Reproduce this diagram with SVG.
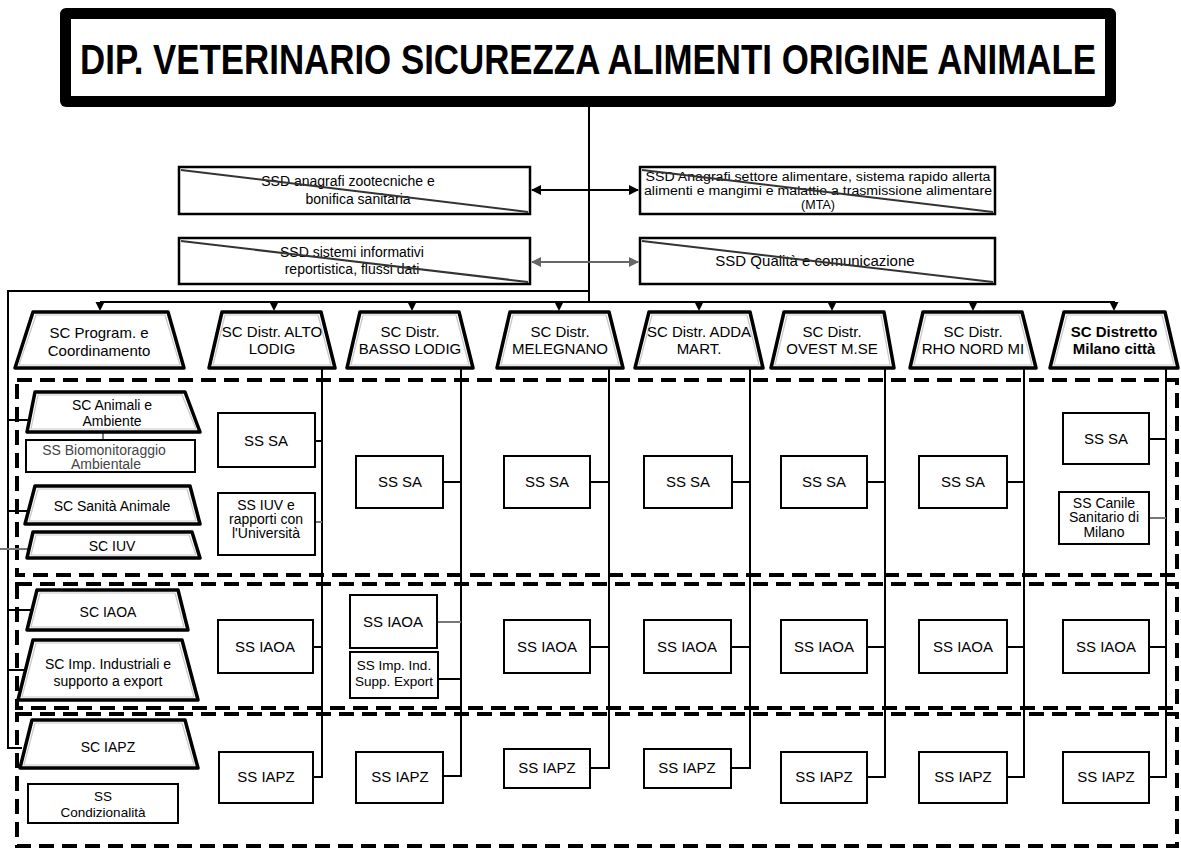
<svg xmlns="http://www.w3.org/2000/svg" xmlns:xlink="http://www.w3.org/1999/xlink" width="1181" height="848" viewBox="0 0 1181 848">
<style>
.t{font-family:"Liberation Sans",Arial,sans-serif;fill:#000;text-anchor:middle;font-size:15px}
.s14{font-size:14px}
.s13{font-size:13.5px}
.s12{font-size:12.5px}
.b{font-weight:bold}
.box{fill:#fff;stroke:#000;stroke-width:2}
.ssd{fill:#fff;stroke:#000;stroke-width:2.5}
.diag{stroke:#333;stroke-width:2}
.tro{fill:#fff;stroke:#000;stroke-width:3.5;stroke-linejoin:round}
.tri{fill:none;stroke:#c8c8c8;stroke-width:1.2;stroke-linejoin:round}
.ln{stroke:#000;stroke-width:2;fill:none}
.gl{stroke:#777;stroke-width:2;fill:none}
.dash{stroke:#000;stroke-width:4;stroke-dasharray:15 8;fill:none}
</style>
<defs>
<marker id="ah" viewBox="0 0 10 10" refX="9" refY="5" markerWidth="5" markerHeight="5" orient="auto-start-reverse"><path d="M0,0 L10,5 L0,10 Z" fill="#000"/></marker>
<marker id="ahg" viewBox="0 0 10 10" refX="9" refY="5" markerWidth="5" markerHeight="5" orient="auto-start-reverse"><path d="M0,0 L10,5 L0,10 Z" fill="#666"/></marker>
<path id="dn" d="M-4.5,0 L4.5,0 L0,9 Z" fill="#000"/>
</defs>
<rect width="1181" height="848" fill="#fff"/>

<g id="dashed-areas">
<rect class="dash" x="17" y="380" width="1160" height="195"/>
<rect class="dash" x="17" y="584" width="1160" height="124"/>
<rect class="dash" x="17" y="714" width="1160" height="132"/>
</g>

<g id="connectors">
<line class="ln" x1="589" y1="106" x2="589" y2="302"/>
<polyline class="ln" points="589,291 8,291 8,748 22,748"/>
<line class="ln" x1="8" y1="420" x2="30" y2="420"/>
<line class="ln" x1="8" y1="511" x2="28" y2="511"/>
<line class="gl" x1="0" y1="549" x2="30" y2="549"/>
<line class="ln" x1="8" y1="610" x2="31" y2="610"/>
<line class="ln" x1="8" y1="670" x2="24" y2="670"/>
<line class="gl" x1="103" y1="432" x2="103" y2="440"/>
<line class="ln" x1="100" y1="302" x2="1115" y2="302"/>
<use xlink:href="#dn" x="100" y="302"/>
<use xlink:href="#dn" x="274" y="302"/>
<use xlink:href="#dn" x="412" y="302"/>
<use xlink:href="#dn" x="559" y="302"/>
<use xlink:href="#dn" x="699" y="302"/>
<use xlink:href="#dn" x="832" y="302"/>
<use xlink:href="#dn" x="973" y="302"/>
<use xlink:href="#dn" x="1114" y="302"/>
<line class="ln" x1="532" y1="190" x2="638" y2="190" marker-start="url(#ah)" marker-end="url(#ah)"/>
<line class="gl" x1="532" y1="262" x2="638" y2="262" style="stroke:#666" marker-start="url(#ahg)" marker-end="url(#ahg)"/>
<polyline class="ln" points="322,368 322,777 313,777"/>
<line class="ln" x1="315" y1="441" x2="322" y2="441"/>
<line class="gl" x1="315" y1="522" x2="322" y2="522"/>
<line class="ln" x1="313" y1="647" x2="322" y2="647"/>
<polyline class="ln" points="461,368 461,776 443,776"/>
<line class="ln" x1="443" y1="482" x2="461" y2="482"/>
<line class="gl" x1="437" y1="622" x2="461" y2="622"/>
<line class="ln" x1="438" y1="679" x2="461" y2="679"/>
<polyline class="ln" points="609,368 609,768 590,768"/>
<line class="ln" x1="590" y1="482" x2="609" y2="482"/>
<line class="ln" x1="590" y1="647" x2="609" y2="647"/>
<polyline class="ln" points="750,368 750,768 731,768"/>
<line class="ln" x1="732" y1="482" x2="750" y2="482"/>
<line class="ln" x1="731" y1="647" x2="750" y2="647"/>
<polyline class="ln" points="885,368 885,777 867,777"/>
<line class="ln" x1="867" y1="482" x2="885" y2="482"/>
<line class="ln" x1="867" y1="647" x2="885" y2="647"/>
<polyline class="ln" points="1024,368 1024,777 1007,777"/>
<line class="ln" x1="1007" y1="482" x2="1024" y2="482"/>
<line class="ln" x1="1007" y1="647" x2="1024" y2="647"/>
<polyline class="ln" points="1166,368 1166,777 1149,777"/>
<line class="ln" x1="1149" y1="439" x2="1166" y2="439"/>
<line class="gl" x1="1149" y1="518" x2="1166" y2="518"/>
<line class="ln" x1="1149" y1="647" x2="1166" y2="647"/>
</g>

<g id="title">
<rect x="60" y="8" width="1056" height="99" rx="6" fill="#000"/>
<rect x="71" y="19" width="1034" height="77" fill="#fff"/>
<text class="t b" transform="translate(588 74) scale(0.72 1)" x="0" y="0" style="font-size:43px" textLength="1411" lengthAdjust="spacingAndGlyphs">DIP. VETERINARIO SICUREZZA ALIMENTI ORIGINE ANIMALE</text>
</g>

<g id="ssd-anagrafi-zootecniche">
<rect class="ssd" x="179" y="167" width="351" height="47"/>
<text class="t s14" x="348" y="186">SSD anagrafi zootecniche e</text>
<text class="t s14" x="358" y="204">bonifica sanitaria</text>
<line class="diag" x1="181" y1="170" x2="528" y2="212"/>
</g>
<g id="ssd-anagrafi-alimentare">
<rect class="ssd" x="640" y="167" width="355" height="47"/>
<text class="t s12" x="818" y="181" textLength="345" lengthAdjust="spacingAndGlyphs">SSD Anagrafi settore alimentare, sistema rapido allerta</text>
<text class="t s12" x="818" y="195" textLength="348" lengthAdjust="spacingAndGlyphs">alimenti e mangimi e malattie a trasmissione alimentare</text>
<text class="t s12" x="818" y="209">(MTA)</text>
<line class="diag" x1="642" y1="170" x2="993" y2="212"/>
</g>
<g id="ssd-sistemi-informativi">
<rect class="ssd" x="179" y="238" width="351" height="46"/>
<text class="t s14" x="352" y="257">SSD sistemi informativi</text>
<text class="t s14" x="352" y="274">reportistica, flussi dati</text>
<line class="diag" x1="181" y1="241" x2="528" y2="282"/>
</g>
<g id="ssd-qualita">
<rect class="ssd" x="640" y="238" width="355" height="46"/>
<text class="t" x="815" y="266">SSD Qualità e comunicazione</text>
<line class="diag" x1="642" y1="241" x2="993" y2="282"/>
</g>

<g id="sc-program">
<polygon class="tro" points="33,312 168,312 184,368 15,368"/>
<polygon class="tri" points="36,315 165,315 180,365 19,365"/>
<text class="t" x="99" y="338">SC Program. e</text>
<text class="t" x="99" y="356">Coordinamento</text>
</g>
<g id="sc-alto-lodig">
<polygon class="tro" points="222,312 321,312 335,368 209,368"/>
<polygon class="tri" points="225,315 318,315 331,365 213,365"/>
<text class="t" x="272" y="337">SC Distr. ALTO</text>
<text class="t" x="272" y="354">LODIG</text>
</g>
<g id="sc-basso-lodig">
<polygon class="tro" points="360,312 459,312 473,368 347,368"/>
<polygon class="tri" points="363,315 456,315 469,365 351,365"/>
<text class="t" x="410" y="337">SC Distr.</text>
<text class="t" x="410" y="354">BASSO LODIG</text>
</g>
<g id="sc-melegnano">
<polygon class="tro" points="510,312 609,312 623,368 497,368"/>
<polygon class="tri" points="513,315 606,315 619,365 501,365"/>
<text class="t" x="560" y="337">SC Distr.</text>
<text class="t" x="560" y="354">MELEGNANO</text>
</g>
<g id="sc-adda-mart">
<polygon class="tro" points="649,312 750,312 763,368 635,368"/>
<polygon class="tri" points="652,315 747,315 759,365 639,365"/>
<text class="t" x="699" y="337">SC Distr. ADDA</text>
<text class="t" x="699" y="354">MART.</text>
</g>
<g id="sc-ovest-mse">
<polygon class="tro" points="784,312 884,312 894,368 771,368"/>
<polygon class="tri" points="787,315 881,315 890,365 775,365"/>
<text class="t" x="832" y="337">SC Distr.</text>
<text class="t" x="832" y="354">OVEST M.SE</text>
</g>
<g id="sc-rho-nord-mi">
<polygon class="tro" points="923,312 1022,312 1036,368 910,368"/>
<polygon class="tri" points="926,315 1019,315 1032,365 914,365"/>
<text class="t" x="973" y="337">SC Distr.</text>
<text class="t" x="973" y="354">RHO NORD MI</text>
</g>
<g id="sc-milano-citta">
<polygon class="tro" points="1064,312 1165,312 1178,368 1050,368"/>
<polygon class="tri" points="1067,315 1162,315 1174,365 1054,365"/>
<text class="t b" x="1114" y="337">SC Distretto</text>
<text class="t b" x="1114" y="354">Milano città</text>
</g>

<g id="sc-animali-ambiente">
<polygon class="tro" points="35,392 185,392 200,432 27,432"/>
<polygon class="tri" points="38,395 182,395 196,429 31,429"/>
<text class="t s14" x="112" y="410">SC Animali e</text>
<text class="t s14" x="112" y="426">Ambiente</text>
</g>
<g id="ss-biomonitoraggio">
<rect class="box" x="26" y="440" width="169" height="32"/>
<text class="t s14" x="104" y="455" style="fill:#444">SS Biomonitoraggio</text>
<text class="t s14" x="106" y="469" style="fill:#444">Ambientale</text>
</g>
<g id="sc-sanita-animale">
<polygon class="tro" points="35,486 190,486 200,524 25,524"/>
<polygon class="tri" points="38,489 187,489 196,521 29,521"/>
<text class="t s14" x="112" y="511">SC Sanità Animale</text>
</g>
<g id="sc-iuv">
<polygon class="tro" points="33,532 192,532 200,558 27,558"/>
<polygon class="tri" points="36,535 189,535 196,555 31,555"/>
<text class="t s14" x="112" y="551">SC IUV</text>
</g>
<g id="sc-iaoa">
<polygon class="tro" points="37,590 178,590 188,630 27,630"/>
<polygon class="tri" points="40,593 175,593 184,627 31,627"/>
<text class="t s14" x="108" y="617">SC IAOA</text>
</g>
<g id="sc-imp-industriali">
<polygon class="tro" points="33,640 182,640 198,700 18,700"/>
<polygon class="tri" points="36,643 179,643 194,697 22,697"/>
<text class="t s14" x="108" y="669">SC Imp. Industriali e</text>
<text class="t s14" x="108" y="686">supporto a export</text>
</g>
<g id="sc-iapz">
<polygon class="tro" points="32,720 185,720 198,768 20,768"/>
<polygon class="tri" points="35,723 182,723 194,765 24,765"/>
<text class="t s14" x="108" y="752">SC IAPZ</text>
</g>
<g id="ss-condizionalita">
<rect class="box" x="28" y="784" width="150" height="39"/>
<text class="t s13" x="103" y="801">SS</text>
<text class="t s13" x="103" y="817">Condizionalità</text>
</g>

<g id="alto-ss-sa"><rect class="box" x="218" y="413" width="97" height="54"/><text class="t" x="266" y="446">SS SA</text></g>
<g id="alto-ss-iuv"><rect class="box" x="218" y="493" width="97" height="62"/><text class="t s14" x="266" y="510">SS IUV e</text><text class="t s14" x="266" y="524">rapporti con</text><text class="t s14" x="266" y="538">l'Università</text></g>
<g id="basso-ss-sa"><rect class="box" x="356" y="456" width="87" height="52"/><text class="t" x="400" y="487">SS SA</text></g>
<g id="melegnano-ss-sa"><rect class="box" x="504" y="456" width="86" height="52"/><text class="t" x="547" y="487">SS SA</text></g>
<g id="adda-ss-sa"><rect class="box" x="644" y="456" width="88" height="52"/><text class="t" x="688" y="487">SS SA</text></g>
<g id="ovest-ss-sa"><rect class="box" x="781" y="456" width="86" height="52"/><text class="t" x="824" y="487">SS SA</text></g>
<g id="rho-ss-sa"><rect class="box" x="919" y="456" width="88" height="52"/><text class="t" x="963" y="487">SS SA</text></g>
<g id="milano-ss-sa"><rect class="box" x="1063" y="413" width="86" height="51"/><text class="t" x="1106" y="444">SS SA</text></g>
<g id="milano-ss-canile"><rect class="box" x="1059" y="492" width="90" height="52"/><text class="t s14" x="1104" y="508">SS Canile</text><text class="t s14" x="1104" y="522">Sanitario di</text><text class="t s14" x="1104" y="537">Milano</text></g>

<g id="alto-ss-iaoa"><rect class="box" x="218" y="620" width="95" height="53"/><text class="t" x="265" y="652">SS IAOA</text></g>
<g id="basso-ss-iaoa"><rect class="box" x="350" y="595" width="87" height="53"/><text class="t" x="393" y="627">SS IAOA</text></g>
<g id="basso-ss-imp"><rect class="box" x="350" y="652" width="88" height="46"/><text class="t s13" x="394" y="670">SS Imp. Ind.</text><text class="t s13" x="394" y="686">Supp. Export</text></g>
<g id="melegnano-ss-iaoa"><rect class="box" x="504" y="620" width="86" height="53"/><text class="t" x="547" y="652">SS IAOA</text></g>
<g id="adda-ss-iaoa"><rect class="box" x="644" y="620" width="87" height="53"/><text class="t" x="687" y="652">SS IAOA</text></g>
<g id="ovest-ss-iaoa"><rect class="box" x="781" y="620" width="86" height="53"/><text class="t" x="824" y="652">SS IAOA</text></g>
<g id="rho-ss-iaoa"><rect class="box" x="919" y="620" width="88" height="53"/><text class="t" x="963" y="652">SS IAOA</text></g>
<g id="milano-ss-iaoa"><rect class="box" x="1063" y="620" width="86" height="53"/><text class="t" x="1106" y="652">SS IAOA</text></g>

<g id="alto-ss-iapz"><rect class="box" x="219" y="752" width="94" height="51"/><text class="t" x="266" y="782">SS IAPZ</text></g>
<g id="basso-ss-iapz"><rect class="box" x="356" y="752" width="87" height="51"/><text class="t" x="400" y="782">SS IAPZ</text></g>
<g id="melegnano-ss-iapz"><rect class="box" x="504" y="749" width="86" height="39"/><text class="t" x="547" y="773">SS IAPZ</text></g>
<g id="adda-ss-iapz"><rect class="box" x="644" y="749" width="87" height="39"/><text class="t" x="687" y="773">SS IAPZ</text></g>
<g id="ovest-ss-iapz"><rect class="box" x="781" y="752" width="86" height="51"/><text class="t" x="824" y="782">SS IAPZ</text></g>
<g id="rho-ss-iapz"><rect class="box" x="919" y="752" width="88" height="51"/><text class="t" x="963" y="782">SS IAPZ</text></g>
<g id="milano-ss-iapz"><rect class="box" x="1063" y="752" width="86" height="51"/><text class="t" x="1106" y="782">SS IAPZ</text></g>
</svg>
